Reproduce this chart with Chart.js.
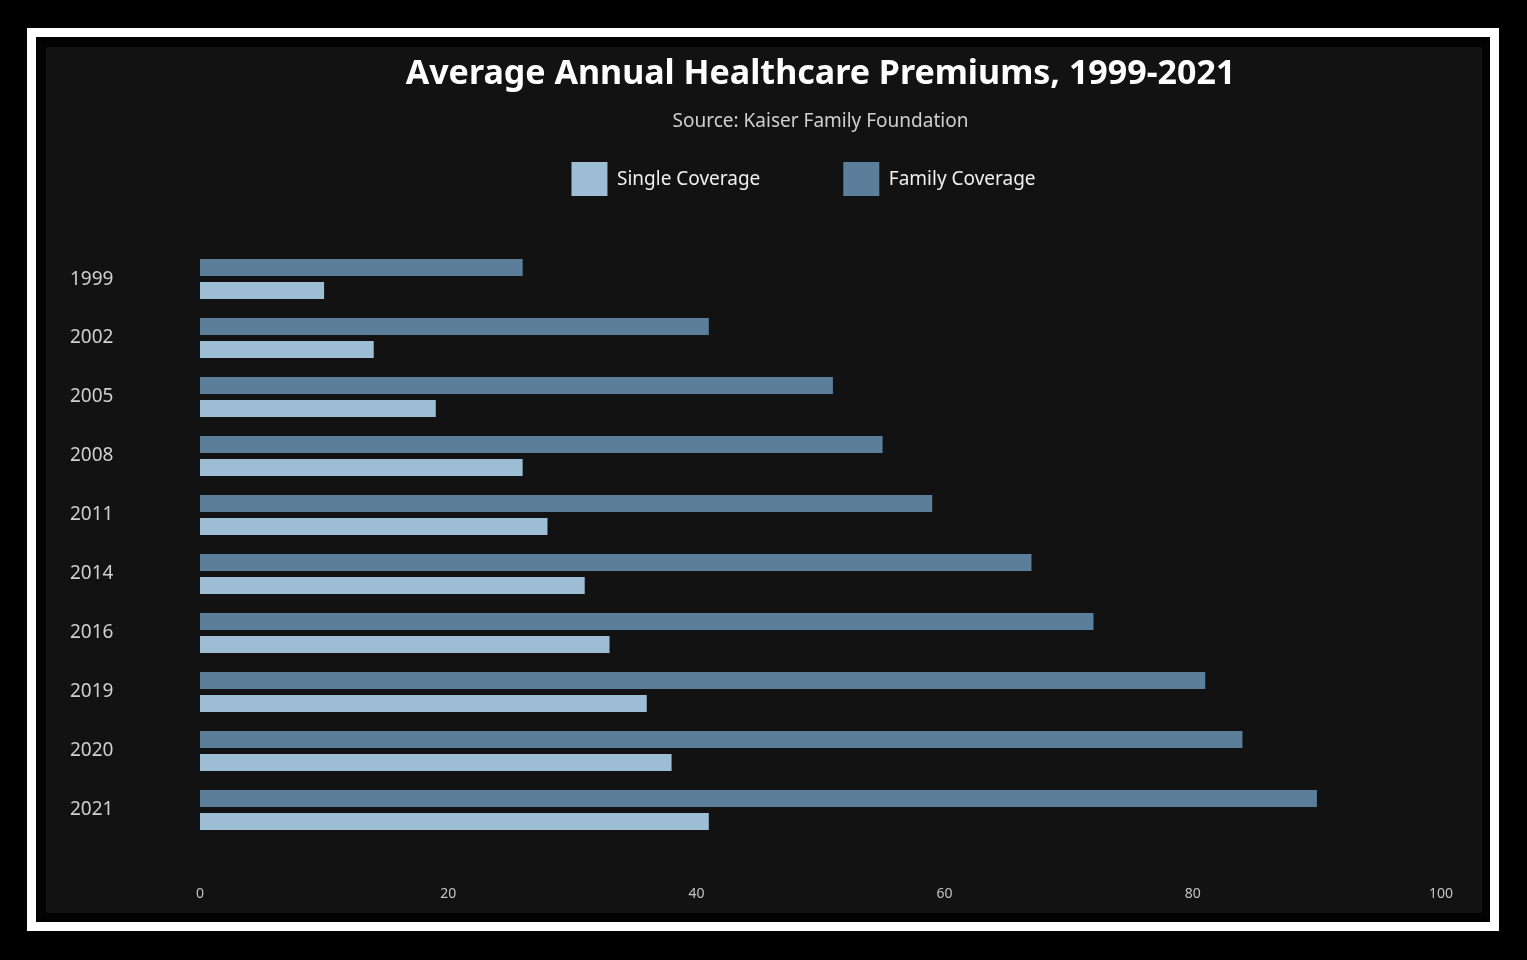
<!DOCTYPE html>
<html>
<head>
<meta charset="utf-8">
<script src="https://cdn.jsdelivr.net/npm/chart.js@4.4.1/dist/chart.umd.min.js"></script>
<style>
  html, body { margin: 0; padding: 0; background: #000; }
  #frame {
    position: absolute; left: 27px; top: 28px;
    width: 1454px; height: 885px;
    border: 9px solid #fff; background: #030303;
  }
  #panel {
    position: absolute; left: 10px; top: 10px;
    width: 1436px; height: 866px; background: #121212;
  }
</style>
</head>
<body>
<div id="frame"><div id="panel"><canvas id="chart" width="1436" height="866"></canvas></div></div>
<script>
const years = ["1999", "2002", "2005", "2008", "2011", "2014", "2016", "2019", "2020", "2021"];
const familyCoverage = [26, 41, 51, 55, 59, 67, 72, 81, 84, 90];
const singleCoverage = [10, 14, 19, 26, 28, 31, 33, 36, 38, 41];
const xTicks = [0, 20, 40, 60, 80, 100];

const fontFamily = "'Noto Sans', sans-serif";
const legendGap = 83;

// legend height is fixed so the bars start where they should;
// the wide item gap also pads the legend vertically, so move it back up
const legendPlacement = {
  id: "legendPlacement",
  beforeInit(chart) {
    const fit = chart.legend.fit;
    chart.legend.fit = function () {
      fit.bind(chart.legend)();
      this.height = 117;
    };
  },
  afterLayout(chart) {
    const legend = chart.legend;
    const dy = legend.top - (115 - legendGap);
    legend.top -= dy;
    legend.bottom -= dy;
    legend.left -= 17;
    legend.right -= 17;
  },
};

new Chart(document.getElementById("chart"), {
  type: "bar",
  data: {
    labels: years,
    datasets: [
      {
        label: "Family Coverage",
        data: familyCoverage,
        backgroundColor: "#5b7f9a",
        categoryPercentage: 0.78,
        barPercentage: 0.74,
      },
      {
        label: "Single Coverage",
        data: singleCoverage,
        backgroundColor: "#9dbdd5",
        categoryPercentage: 0.78,
        barPercentage: 0.74,
      },
    ],
  },
  options: {
    indexAxis: "y",
    responsive: false,
    animation: false,
    layout: { padding: { top: 0, left: 24, right: 41, bottom: 9.5 } },
    scales: {
      x: {
        min: 0,
        max: 100,
        afterBuildTicks: (scale) => {
          scale.ticks = xTicks.map((v) => ({ value: v }));
        },
        afterFit: (scale) => {
          scale.height = 64;
          scale.paddingRight = 0;
        },
        grid: { display: false, drawTicks: false },
        border: { display: false },
        ticks: {
          padding: 46,
          color: "#c4c4c4",
          font: { family: fontFamily, size: 14 },
        },
      },
      y: {
        afterFit: (scale) => {
          scale.width = 130;
        },
        grid: { display: false, drawTicks: false },
        border: { display: false },
        ticks: {
          crossAlign: "far",
          color: "#cfcfcf",
          font: { family: fontFamily, size: 19 },
        },
      },
    },
    plugins: {
      title: {
        display: true,
        fullSize: false,
        text: "Average Annual Healthcare Premiums, 1999-2021",
        color: "#ffffff",
        font: { family: fontFamily, size: 34, weight: "bold" },
        padding: { top: 7, bottom: 0 },
      },
      subtitle: {
        display: true,
        fullSize: false,
        text: "Source: Kaiser Family Foundation",
        color: "#d0d0d0",
        font: { family: fontFamily, size: 19 },
        padding: { top: 15, bottom: 0 },
      },
      legend: {
        fullSize: false,
        reverse: true,
        labels: {
          boxWidth: 36,
          boxHeight: 36,
          padding: legendGap,
          color: "#f0f0f0",
          font: { family: fontFamily, size: 19 },
        },
      },
      tooltip: { enabled: false },
    },
  },
  plugins: [legendPlacement],
});
</script>
</body>
</html>
